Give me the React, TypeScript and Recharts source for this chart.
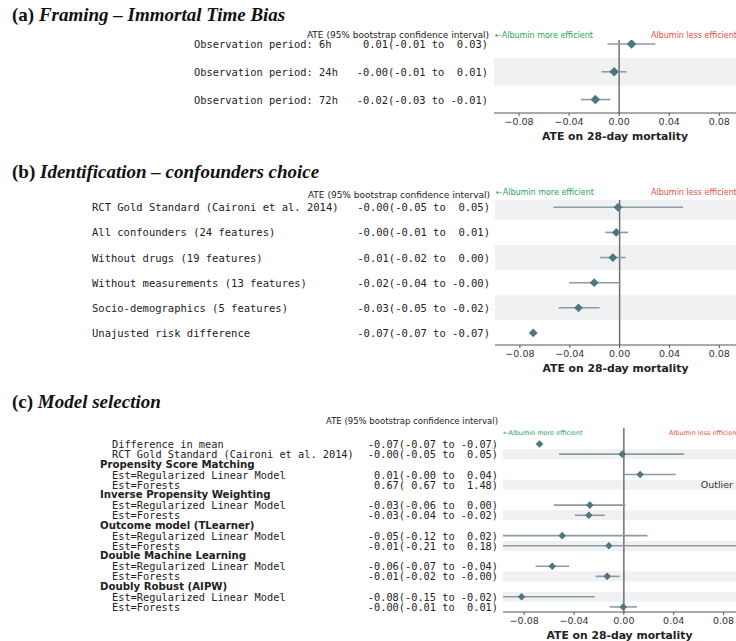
import React from "react";
import { ScatterChart, Scatter, XAxis, YAxis, ErrorBar, ReferenceLine, ReferenceArea } from "recharts";

// --- (a) Framing ---
const framingLabels = ["Observation period: 6h", "Observation period: 24h", "Observation period: 72h"];
const framingCI = ["0.01(-0.01 to  0.03)", "-0.00(-0.01 to  0.01)", "-0.02(-0.03 to -0.01)"];
const framingEst = [0.0099, -0.004, -0.019];
const framingLo = [-0.0093, -0.014, -0.0306];
const framingHi = [0.029, 0.006, -0.0072];
const framingBands = [1];

// --- (b) Identification ---
const identLabels = [
  "RCT Gold Standard (Caironi et al. 2014)",
  "All confounders (24 features)",
  "Without drugs (19 features)",
  "Without measurements (13 features)",
  "Socio-demographics (5 features)",
  "Unajusted risk difference",
];
const identCI = [
  "-0.00(-0.05 to  0.05)",
  "-0.00(-0.01 to  0.01)",
  "-0.01(-0.02 to  0.00)",
  "-0.02(-0.04 to -0.00)",
  "-0.03(-0.05 to -0.02)",
  "-0.07(-0.07 to -0.07)",
];
const identEst = [-0.0013, -0.0027, -0.0054, -0.0204, -0.033, -0.0693];
const identLo = [-0.0532, -0.0115, -0.0156, -0.0405, -0.049, -0.0693];
const identHi = [0.051, 0.0067, 0.0048, 0.0, -0.016, -0.0693];
const identBands = [0, 2, 4];

// --- (c) Model selection (null = group heading) ---
const modelLabels = [
  "Difference in mean",
  "RCT Gold Standard (Caironi et al. 2014)",
  "Propensity Score Matching",
  "Est=Regularized Linear Model",
  "Est=Forests",
  "Inverse Propensity Weighting",
  "Est=Regularized Linear Model",
  "Est=Forests",
  "Outcome model (TLearner)",
  "Est=Regularized Linear Model",
  "Est=Forests",
  "Double Machine Learning",
  "Est=Regularized Linear Model",
  "Est=Forests",
  "Doubly Robust (AIPW)",
  "Est=Regularized Linear Model",
  "Est=Forests",
];
const modelHeads = [false, false, true, false, false, true, false, false, true, false, false, true, false, false, true, false, false];
const modelCI = [
  "-0.07(-0.07 to -0.07)",
  "-0.00(-0.05 to  0.05)",
  "",
  "0.01(-0.00 to  0.04)",
  "0.67( 0.67 to  1.48)",
  "",
  "-0.03(-0.06 to  0.00)",
  "-0.03(-0.04 to -0.02)",
  "",
  "-0.05(-0.12 to  0.02)",
  "-0.01(-0.21 to  0.18)",
  "",
  "-0.06(-0.07 to -0.04)",
  "-0.01(-0.02 to -0.00)",
  "",
  "-0.08(-0.15 to -0.02)",
  "-0.00(-0.01 to  0.01)",
];
const modelEst = [-0.0677, -0.0013, null, 0.0131, 0.67, null, -0.0273, -0.0281, null, -0.0495, -0.012, null, -0.0575, -0.0134, null, -0.0821, -0.0005];
const modelLo = [-0.0677, -0.052, null, 0.0, 0.67, null, -0.0562, -0.0393, null, -0.12, -0.21, null, -0.0709, -0.0227, null, -0.15, -0.0115];
const modelHi = [-0.0677, 0.0484, null, 0.0417, 1.48, null, 0.0013, -0.0153, null, 0.019, 0.18, null, -0.0439, -0.0035, null, -0.0233, 0.0104];
const modelNotes = ["", "", "", "", "Outlier", "", "", "", "", "", "", "", "", "", "", "", ""];
const modelBands = [1, 4, 7, 10, 13, 15];

const xTicks = [-0.08, -0.04, 0, 0.04, 0.08];

const MONO = '"DejaVu Sans Mono", monospace';
const SANS = '"DejaVu Sans", sans-serif';
const SERIF = '"Liberation Serif", serif';
const DIAMOND = "#4c7780";
const CI_COLOR = "#8d9ba3";
const BAND = "#f0f1f3";
const GREEN = "#27a35a";
const RED = "#ec4a43";

const fmtTick = (v: number) => (v < 0 ? "\u2212" : "") + Math.abs(v).toFixed(2);

function Forest(props: any) {
  const {
    top, height, plotTop, yWidth, xDomain, yDomain, labels, ci, est, lo, hi,
    heads, notes, bands, labelX, headX, ciX, fontSize, r,
  } = props;
  const [xMin, xMax] = xDomain;

  const rows = labels.map((_: string, i: number) => i);
  // error bars are cut at the plot edges (ErrorBar is not clipped by recharts)
  const data = rows
    .filter((i: number) => est[i] !== null)
    .map((i: number) => {
      const inside = est[i] >= xMin && est[i] <= xMax;
      const l = Math.max(lo[i], xMin);
      const h = Math.min(hi[i], xMax);
      return { row: i, est: est[i], err: inside ? [est[i] - l, h - est[i]] : [0, 0] };
    });

  const renderTick = (p: any) => {
    const i = p.payload.value;
    const head = heads && heads[i];
    return (
      <g>
        <text
          x={head ? headX : labelX}
          y={p.y}
          dominantBaseline="central"
          fontFamily={head ? SANS : MONO}
          fontWeight={head ? "bold" : "normal"}
          fontSize={head ? fontSize - 0.1 : fontSize}
          fill="#222"
          style={{ whiteSpace: "pre" }}
        >
          {labels[i]}
        </text>
        {ci[i] ? (
          <text x={ciX} y={p.y} dominantBaseline="central" textAnchor="end" fontFamily={MONO} fontSize={fontSize} fill="#222" style={{ whiteSpace: "pre" }}>
            {ci[i]}
          </text>
        ) : null}
        {notes && notes[i] ? (
          <text x={733} y={p.y} dominantBaseline="central" textAnchor="end" fontFamily={SANS} fontSize={9.5} fill="#333">
            {notes[i]}
          </text>
        ) : null}
      </g>
    );
  };

  const diamond = (p: any) => {
    const { cx, cy } = p;
    if (cx == null || cy == null) return <g />;
    return <path d={`M${cx},${cy - r}L${cx + r},${cy}L${cx},${cy + r}L${cx - r},${cy}Z`} fill={DIAMOND} />;
  };

  return (
    <div style={{ position: "absolute", left: 0, top }}>
      <ScatterChart width={736} height={height} margin={{ top: plotTop, right: 0, left: 0, bottom: 0 }}>
        {bands.map((b: number) => (
          <ReferenceArea key={b} y1={b - 0.5} y2={b + 0.5} fill={BAND} fillOpacity={1} stroke="none" ifOverflow="hidden" />
        ))}
        <XAxis
          type="number"
          dataKey="est"
          domain={xDomain}
          allowDataOverflow
          ticks={xTicks}
          tickFormatter={fmtTick}
          height={32}
          tickSize={3}
          axisLine={{ stroke: "#555" }}
          tickLine={{ stroke: "#555" }}
          tick={{ fill: "#333", fontSize: 9.5, fontFamily: SANS }}
          label={{
            value: "ATE on 28-day mortality",
            position: "insideTop",
            offset: 19,
            style: { fontWeight: "bold", fontSize: 10.8, fill: "#222", fontFamily: SANS },
          }}
        />
        <YAxis
          type="number"
          dataKey="row"
          domain={yDomain}
          reversed
          allowDataOverflow
          ticks={rows}
          interval={0}
          width={yWidth}
          axisLine={false}
          tickLine={false}
          tick={renderTick}
        />
        <ReferenceLine x={0} stroke="#6f6f6f" strokeWidth={1.5} />
        <Scatter data={data} shape={diamond} isAnimationActive={false}>
          <ErrorBar dataKey="err" direction="x" width={0} stroke={CI_COLOR} strokeWidth={1.6} isAnimationActive={false} />
        </Scatter>
      </ScatterChart>
    </div>
  );
}

const abs = (left: number, top: number, extra: any = {}) => ({
  position: "absolute" as const, left, top, whiteSpace: "pre" as const, lineHeight: 1, ...extra,
});

function Title({ top, tag, text }: any) {
  return (
    <div style={abs(12, top, { fontFamily: SERIF, fontSize: 19, fontWeight: "bold", color: "#111" })}>
      {tag} <i>{text}</i>
    </div>
  );
}

function Header({ top, right, size }: any) {
  return (
    <div style={{ position: "absolute", top, right: 736 - right, fontFamily: SANS, fontSize: size, color: "#222", lineHeight: 1, whiteSpace: "pre" }}>
      ATE (95% bootstrap confidence interval)
    </div>
  );
}

function Direction({ top, left, leftRed, size }: any) {
  return (
    <>
      <div style={abs(left, top, { fontFamily: SANS, fontSize: size, color: GREEN })}>{"\u2190Albumin more efficient"}</div>
      <div style={abs(leftRed, top, { fontFamily: SANS, fontSize: size, color: RED })}>Albumin less efficient</div>
    </>
  );
}

export default function App() {
  return (
    <div style={{ position: "absolute", left: 0, top: 0, width: 736, height: 641, overflow: "hidden", background: "#fff" }}>
      <Title top={5} tag="(a)" text="Framing – Immortal Time Bias" />
      <Header top={31} right={489} size={9} />
      <Direction top={32} left={495} leftRed={651} size={8} />
      <Forest
        top={0} height={145} plotTop={40} yWidth={494}
        xDomain={[-0.1, 0.0934]} yDomain={[-0.145, 2.484]}
        labels={framingLabels} ci={framingCI} est={framingEst} lo={framingLo} hi={framingHi}
        bands={framingBands} labelX={194} ciX={488} fontSize={10.4} r={4.8}
      />

      <Title top={162} tag="(b)" text="Identification – confounders choice" />
      <Header top={191} right={490} size={9} />
      <Direction top={189} left={496} leftRed={651} size={8} />
      <Forest
        top={160} height={217} plotTop={40} yWidth={495}
        xDomain={[-0.1, 0.0934]} yDomain={[-0.29, 5.48]}
        labels={identLabels} ci={identCI} est={identEst} lo={identLo} hi={identHi}
        bands={identBands} labelX={92} ciX={490} fontSize={10.5} r={4.4}
      />

      <Title top={392} tag="(c)" text="Model selection" />
      <Header top={417} right={498} size={8.5} />
      <Direction top={430} left={503} leftRed={669} size={6.5} />
      <Forest
        top={388} height={256} plotTop={40} yWidth={503}
        xDomain={[-0.097, 0.09]} yDomain={[-1.57, 16.5]}
        labels={modelLabels} ci={modelCI} est={modelEst} lo={modelLo} hi={modelHi}
        heads={modelHeads} notes={modelNotes}
        bands={modelBands} labelX={112} headX={100} ciX={498} fontSize={10.3} r={3.8}
      />
    </div>
  );
}
